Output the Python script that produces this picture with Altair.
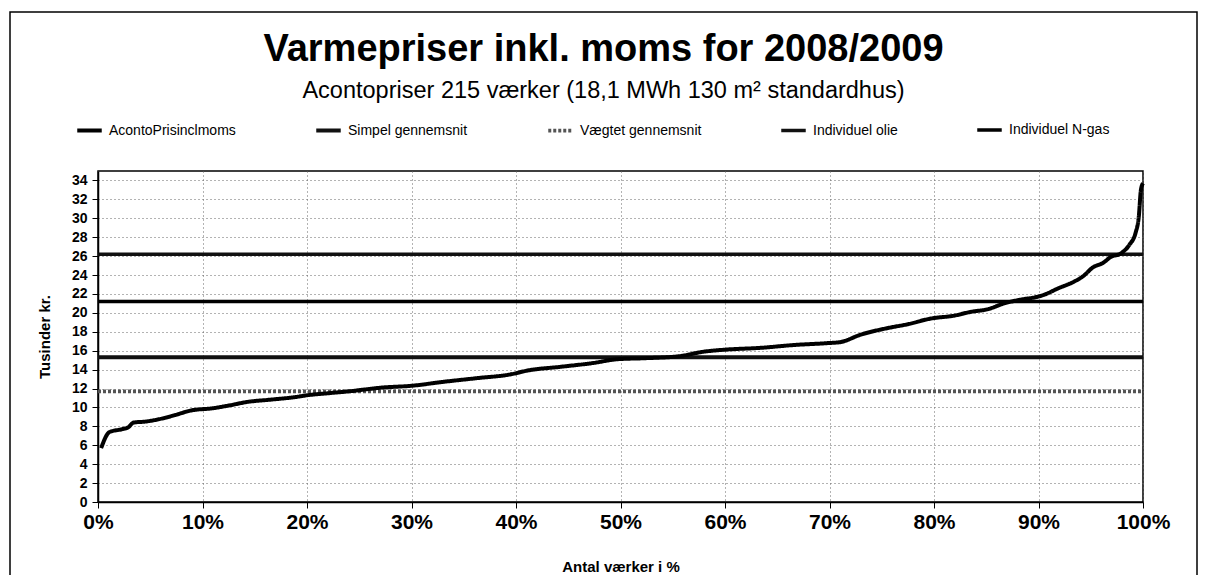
import altair as alt
import pandas as pd

# ---- data ----
series_names = ["AcontoPrisinclmoms", "Simpel gennemsnit", "Vægtet gennemsnit",
                "Individuel olie", "Individuel N-gas"]

# sorted acconto prices (x: share of works in %, y: thousand kr.)
curve_x = [0.3, 1.1, 2.3, 2.9, 3.4, 4.5, 6.4, 7.4, 9.0, 10.9, 12.5, 14.4, 16.3,
           18.9, 20.1, 22.0, 24.0, 27.2, 30.1, 33.0, 36.3, 39.5, 41.1, 44.3,
           47.4, 49.7, 52.2, 55.5, 58.0, 59.9, 63.4, 66.6, 69.8, 71.0, 73.0,
           75.6, 77.5, 79.7, 81.9, 83.5, 85.2, 86.7, 88.3, 89.9, 90.5, 91.9,
           93.4, 94.3, 95.2, 96.2, 96.9, 97.9, 98.7, 99.3, 99.6, 99.8, 100.0]
curve_y = [5.7, 7.4, 7.7, 7.9, 8.4, 8.5, 8.9, 9.2, 9.7, 9.9, 10.2, 10.6, 10.8,
           11.1, 11.3, 11.5, 11.7, 12.1, 12.3, 12.7, 13.1, 13.5, 13.9, 14.3,
           14.7, 15.1, 15.2, 15.4, 15.9, 16.1, 16.3, 16.6, 16.8, 16.9, 17.7,
           18.4, 18.8, 19.4, 19.7, 20.1, 20.4, 21.0, 21.4, 21.7, 21.9, 22.6,
           23.3, 23.9, 24.8, 25.3, 25.9, 26.3, 27.2, 28.5, 30.2, 33.0, 33.7]

# horizontal reference levels (thousand kr.)
ref_names = ["Simpel gennemsnit", "Vægtet gennemsnit", "Individuel olie", "Individuel N-gas"]
ref_values = [15.3, 11.7, 26.2, 21.2]
ref_x = [0, 100]

y_ticks = list(range(0, 35, 2))
x_ticks = list(range(0, 101, 10))

rows = [{"serie": series_names[0], "x": x, "y": y} for x, y in zip(curve_x, curve_y)]
curve_df = pd.DataFrame(rows)
ref_df = pd.DataFrame([{"serie": n, "x": xx, "y": v}
                       for n, v in zip(ref_names, ref_values) for xx in ref_x])

FONT = "Liberation Sans"

color_scale = alt.Scale(domain=series_names,
                        range=["#000000", "#111111", "#555555", "#111111", "#000000"])
dash_scale = alt.Scale(domain=series_names,
                       range=[[1, 0], [1, 0], [3, 2], [1, 0], [1, 0]])
width_scale = alt.Scale(domain=series_names, range=[4, 3.5, 3, 4, 4])

x_enc = alt.X("x:Q", scale=alt.Scale(domain=[0, 100], nice=False),
              axis=alt.Axis(values=x_ticks, labelExpr="datum.value + '%'",
                            title="Antal værker i %", labelFontSize=21,
                            labelPadding=3, titlePadding=27, labelFlush=False))
y_enc = alt.Y("y:Q", scale=alt.Scale(domain=[0, 35], nice=False),
              axis=alt.Axis(values=y_ticks, title="Tusinder kr.", labelFontSize=14,
                            labelPadding=5, titlePadding=19))

legend = alt.Legend(title=None, orient="none", legendX=-23, legendY=-55,
                    direction="horizontal", columns=5, gridAlign="none",
                    columnPadding=72, symbolType="stroke", symbolSize=600,
                    symbolStrokeWidth=4, labelFont=FONT, labelFontSize=14,
                    labelColor="#000", labelOffset=5)

common = dict(
    color=alt.Color("serie:N", scale=color_scale, legend=legend),
    strokeDash=alt.StrokeDash("serie:N", scale=dash_scale, legend=legend),
    strokeWidth=alt.StrokeWidth("serie:N", scale=width_scale, legend=legend),
)

# outer chart frame (decoration, as in the scanned Excel chart)
frame = alt.Chart(pd.DataFrame({"k": [0]})).mark_rect(
    fill=None, stroke="#000", strokeWidth=1.5
).encode(x=alt.value(-88), x2=alt.value(1045 + 54),
         y=alt.value(-159), y2=alt.value(331 + 90))

refs = alt.Chart(ref_df).mark_line().encode(
    x=x_enc, y=y_enc, detail="serie:N", **common)
curve = alt.Chart(curve_df).mark_line(interpolate="monotone").encode(
    x=x_enc, y=y_enc, **common)

chart = alt.layer(frame, refs, curve).properties(
    width=1045, height=331,
    autosize=alt.AutoSizeParams(type="none"),
    padding={"left": 90, "top": 163, "right": 55, "bottom": 73},
    background="white",
    title=alt.TitleParams(
        text="Varmepriser inkl. moms for 2008/2009",
        subtitle="Acontopriser 215 værker (18,1 MWh 130 m² standardhus)",
        font=FONT, fontSize=38, fontWeight="bold", color="#000",
        subtitleFont=FONT, subtitleFontSize=23.5, subtitleColor="#000",
        subtitlePadding=10, anchor="middle", dx=-17, offset=-91),
).configure_view(
    stroke="#000", strokeWidth=1.5
).configure_axis(
    domainColor="#000", domainWidth=1.5, tickColor="#000", tickSize=6,
    labelFont=FONT, labelFontWeight="bold", labelColor="#000",
    titleFont=FONT, titleFontWeight="bold", titleColor="#000", titleFontSize=15,
    grid=True, gridColor="#666", gridDash=[1, 3], gridWidth=1,
)

chart.save("out.html", embed_options={"renderer": "svg", "actions": False})
